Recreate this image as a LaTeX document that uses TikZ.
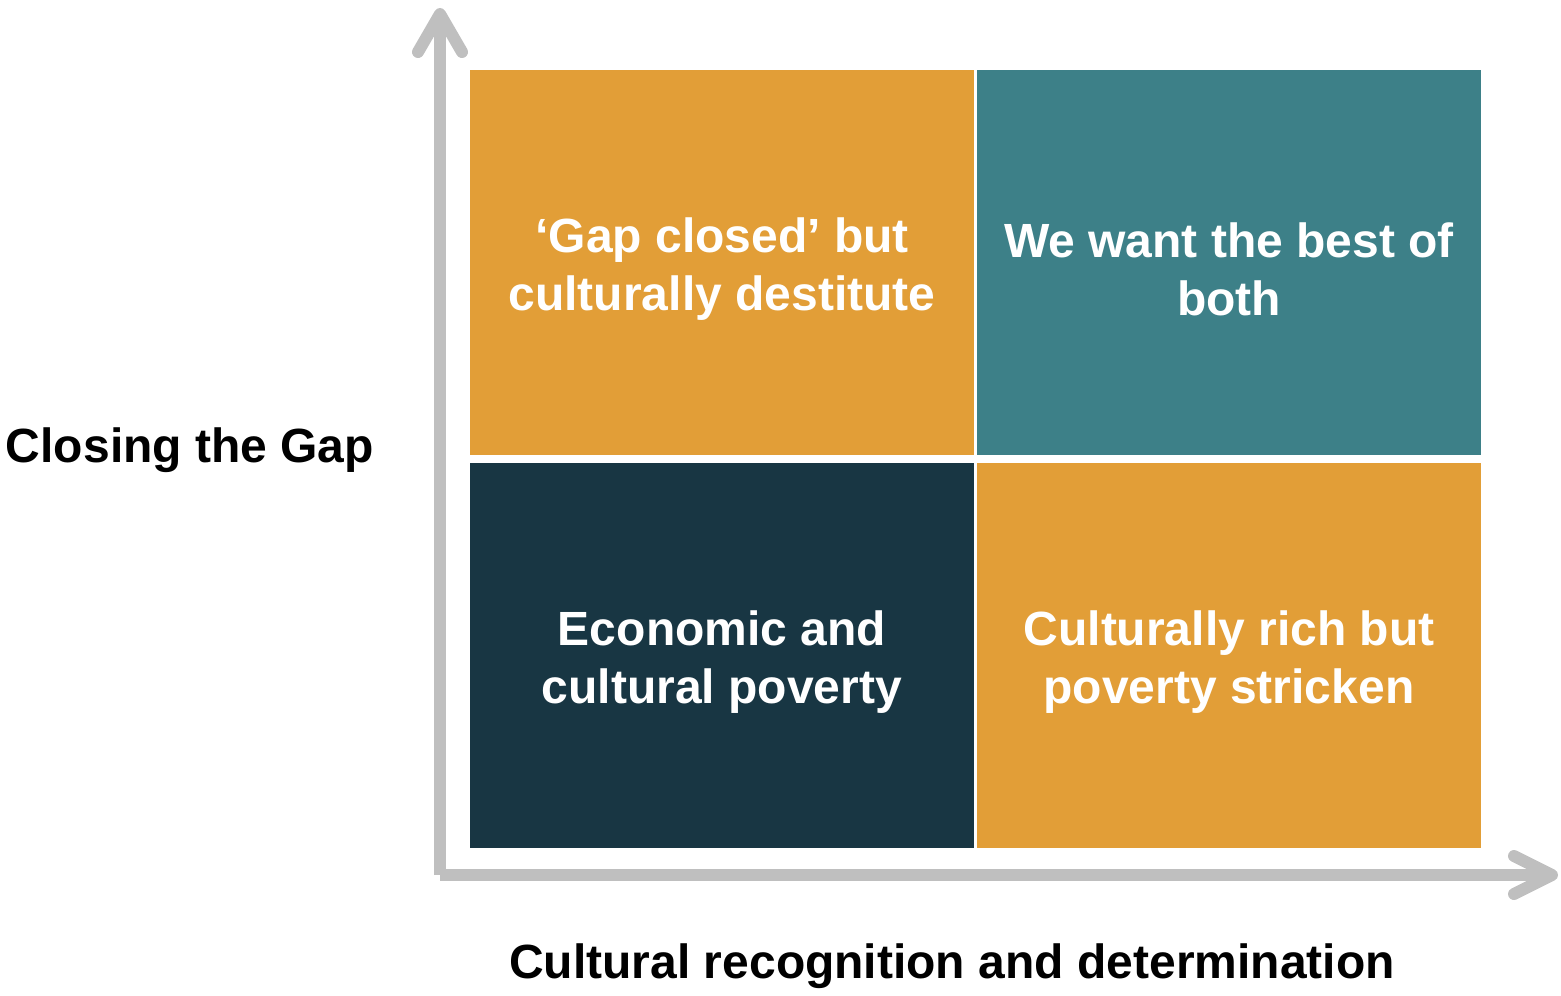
\documentclass[tikz,border=0pt]{standalone}
\usepackage{fontspec}
\setmainfont{Liberation Sans}
\usetikzlibrary{positioning,calc}
\definecolor{quadorange}{HTML}{E29E37}
\definecolor{quadteal}{HTML}{3D8088}
\definecolor{quaddark}{HTML}{183643}
\definecolor{axisgray}{HTML}{BFBFBF}
\tikzset{
  quad/.style={ % one cell of the matrix
    rectangle, minimum width=252pt, minimum height=192.5pt,
    inner sep=0pt
  },
  quadtext/.style={ % white caption inside a cell
    text=white, align=center, inner sep=0pt,
    yshift=-3.5pt, font=\fontsize{24}{29}\selectfont\bfseries
  },
  axis/.style={ % grey axis line
    draw=axisgray, line width=6pt
  },
  axishead/.style={ % open chevron at the end of an axis
    draw=axisgray, line width=6pt, line cap=round, line join=round
  },
  axislabel/.style={
    font=\fontsize{24}{29}\selectfont\bfseries, text=black, inner sep=0pt
  }
}
\begin{document}
\begin{tikzpicture}[x=0.5pt,y=-0.5pt]
  \useasboundingbox (0,0) rectangle (1561,995);

  % the four cells
  \node[quad,fill=quadorange,
    label={[quadtext]center:‘Gap closed’ but\\culturally destitute}] (gap) at (722,262.5) {};
  \node[quad,fill=quadteal,
    label={[quadtext]center:We want the best of\\both}] (best) at (1229,262.5) {};
  \node[quad,fill=quaddark,
    label={[quadtext]center:Economic and\\cultural poverty}] (poor) at (722,655.5) {};
  \node[quad,fill=quadorange,
    label={[quadtext]center:Culturally rich but\\poverty stricken}] (rich) at (1229,655.5) {};

  % axes
  \coordinate (origin) at (440,875);
  \coordinate (ytip) at (440,14);
  \coordinate (xtip) at (1552,875);
  \draw[axis] (origin) -- (ytip);
  \draw[axis] (origin) -- (xtip);
  \draw[axishead] ($(ytip)+(-22,38)$) -- (ytip) -- ($(ytip)+(22,38)$);
  \draw[axishead] ($(xtip)+(-38,-19)$) -- (xtip) -- ($(xtip)+(-38,19)$);

  \node[axislabel] (ylabel) at (190,450) {Closing the Gap};
  \node[axislabel] (xlabel) at (952,966) {Cultural recognition and determination};
\end{tikzpicture}
\end{document}
